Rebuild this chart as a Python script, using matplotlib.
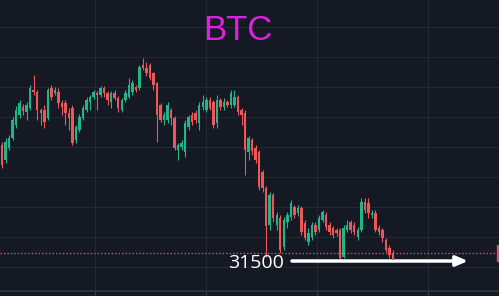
import numpy as np
import matplotlib
matplotlib.use('Agg')
import matplotlib.pyplot as plt
from matplotlib.patches import Rectangle

# daily candles (price units)
opens = [49500, 47000, 49000, 50650, 52850, 54500, 55850, 55000, 55650, 58650,
         58350, 55350, 55350, 54000, 59000, 58150, 58350, 56500, 56500, 54850,
         55650, 50350, 52000, 54000, 55350, 56650, 57500, 58150, 57850, 59000,
         58150, 56650, 58150, 57350, 55350, 57000, 57500, 58350, 59150, 59000,
         62850, 62350, 62850, 61500, 59850, 56150, 53650, 53650, 55350, 54000,
         48650, 49150, 48350, 52500, 54500, 54850, 53150, 55850, 55350, 57000,
         56650, 53150, 57000, 55850, 56650, 56150, 56150, 57500, 55350, 54850,
         48350, 50350, 49000, 48350, 45000, 42350, 36150, 41150, 36150, 37350,
         32500, 36650, 37500, 39150, 38150, 39000, 36500, 33350, 34150, 36150,
         35350, 37000, 37850, 36150, 35650, 35350, 35350, 30850, 35350, 36650,
         36150, 34150, 35350, 40000, 39850, 37850, 38150, 35650, 35350, 33650,
         32350, 31500]
highs = [50000, 50650, 51150, 54150, 56000, 57000, 56350, 56650, 59500, 61150,
         58650, 55650, 56150, 59000, 59500, 59150, 59000, 57000, 57000, 55650,
         56150, 52850, 54650, 56150, 57500, 57850, 58650, 58500, 59350, 59350,
         58500, 58500, 58650, 57650, 57350, 58650, 60650, 60350, 59500, 62850,
         64000, 63350, 63150, 61650, 60000, 56500, 55000, 56650, 55650, 54350,
         49850, 50350, 53650, 54500, 55000, 55350, 56650, 57850, 57500, 57500,
         57000, 57850, 57350, 57350, 57000, 58650, 58650, 57850, 55650, 55350,
         51000, 50650, 49500, 48650, 45350, 42650, 41650, 41500, 38350, 37850,
         37500, 38350, 40350, 39500, 39500, 39350, 37000, 35650, 36650, 36650,
         37850, 38650, 38350, 36650, 36000, 35650, 35650, 36150, 37000, 37000,
         36650, 35850, 40650, 40650, 40650, 38650, 38650, 36150, 35650, 34000,
         32850, 32000]
lows = [45650, 46500, 48650, 50350, 52350, 54000, 54500, 53650, 55350, 57850,
        53650, 52850, 52350, 53650, 57000, 57850, 55650, 54500, 52850, 52000,
        49500, 49850, 51650, 53650, 55000, 55350, 57150, 55350, 57500, 57500,
        56150, 55650, 57000, 55000, 55000, 56650, 57350, 57850, 58350, 58650,
        62000, 61000, 60350, 58650, 50000, 53350, 52850, 53150, 52850, 48650,
        47000, 48650, 47500, 52000, 52850, 53150, 52000, 55350, 55000, 55350,
        52350, 52350, 55350, 55350, 55850, 55650, 55850, 54500, 52850, 44500,
        47000, 47850, 46500, 42000, 41650, 30850, 35350, 36650, 35350, 31500,
        32000, 35650, 37000, 37350, 37650, 34500, 33650, 32850, 33650, 34500,
        35000, 36650, 35350, 34500, 34000, 34350, 30350, 30650, 35000, 34850,
        34500, 33650, 35000, 38150, 37350, 37350, 35000, 34500, 33350, 31650,
        30650, 30000]
closes = [46150, 50000, 50650, 53650, 55350, 56500, 55150, 56150, 59000, 58350,
          55350, 54850, 53350, 58650, 57500, 58650, 56500, 55850, 54850, 54000,
          49850, 52500, 54150, 55650, 57000, 57500, 58350, 57850, 59000, 58150,
          57000, 58150, 57350, 55650, 57000, 58150, 59500, 59850, 58650, 62500,
          62350, 61500, 60650, 59500, 54500, 53650, 54500, 56150, 54000, 49000,
          49500, 49850, 53150, 54150, 53350, 53650, 56150, 56650, 57000, 55650,
          52850, 57000, 55850, 56650, 56150, 58150, 57500, 55000, 54500, 48650,
          50650, 48500, 47000, 42500, 42350, 36000, 41150, 37350, 37850, 32000,
          37000, 37850, 39850, 37850, 39000, 35000, 34000, 34850, 36150, 35000,
          37350, 38350, 35850, 35000, 34500, 34850, 30650, 35650, 36150, 35350,
          35000, 35350, 40000, 38650, 38150, 38150, 35350, 35000, 34000, 32000,
          31150, 30350]

title = 'BTC'
level = 31500
level_label = '31500'

bg = '#151924'
grid_c = '#242834'
up_c = '#22b58c'
down_c = '#ef5658'

fig = plt.figure(figsize=(4.99, 2.96), dpi=100, facecolor=bg)
ax = fig.add_axes([0, 5 / 296, 1, 291 / 296], facecolor=bg)

o = np.array(opens)
c = np.array(closes)
idx = np.arange(len(o))
colors = np.where(c >= o, up_c, down_c)

ax.vlines(idx, lows, highs, colors=colors, linewidth=0.8, zorder=3)
ax.bar(idx, np.maximum(np.abs(c - o), 150), bottom=np.minimum(o, c),
       width=0.7, color=colors, linewidth=0, zorder=4)

ax.set_xlim(-0.57, 141.1)
ax.set_ylim(25170, 73670)

# grid
ax.set_xticks(np.arange(26.4, 141, 31.5))
ax.set_yticks(np.arange(29170, 73000, 5000))
ax.grid(color=grid_c, linewidth=0.8, zorder=0)
ax.tick_params(labelbottom=False, labelleft=False, left=False,
               length=3, color='#3a3e4a')
for side in ['top', 'left', 'right']:
    ax.spines[side].set_visible(False)
ax.spines['bottom'].set_color('#2e323d')
ax.spines['bottom'].set_linewidth(1.5)

# support level
ax.axhline(level, color='#d4507a', linestyle=(0, (1, 1.5)), linewidth=1.0, zorder=2)
fig.patches.append(Rectangle((497 / 499, 1 - 261 / 296), 3 / 499, 16 / 296,
                             transform=fig.transFigure, color='#d9506a'))

fig.text(238 / 499, 1 - 30 / 296, title, color='#e020e0', fontsize=25,
         ha='center', va='center', family='Liberation Sans')
fig.text(256 / 499, 1 - 263 / 296, level_label, color='white', fontsize=14,
         ha='center', va='center', family='Open Sans')
ax.annotate('', xy=(468 / 499, 1 - 261 / 296), xytext=(292 / 499, 1 - 261 / 296),
            xycoords='figure fraction', textcoords='figure fraction',
            arrowprops=dict(arrowstyle='-|>,head_length=0.7,head_width=0.3',
                            color='white', lw=2.5, shrinkA=0, shrinkB=0))

fig.savefig('out.png', dpi=100, facecolor=bg)
